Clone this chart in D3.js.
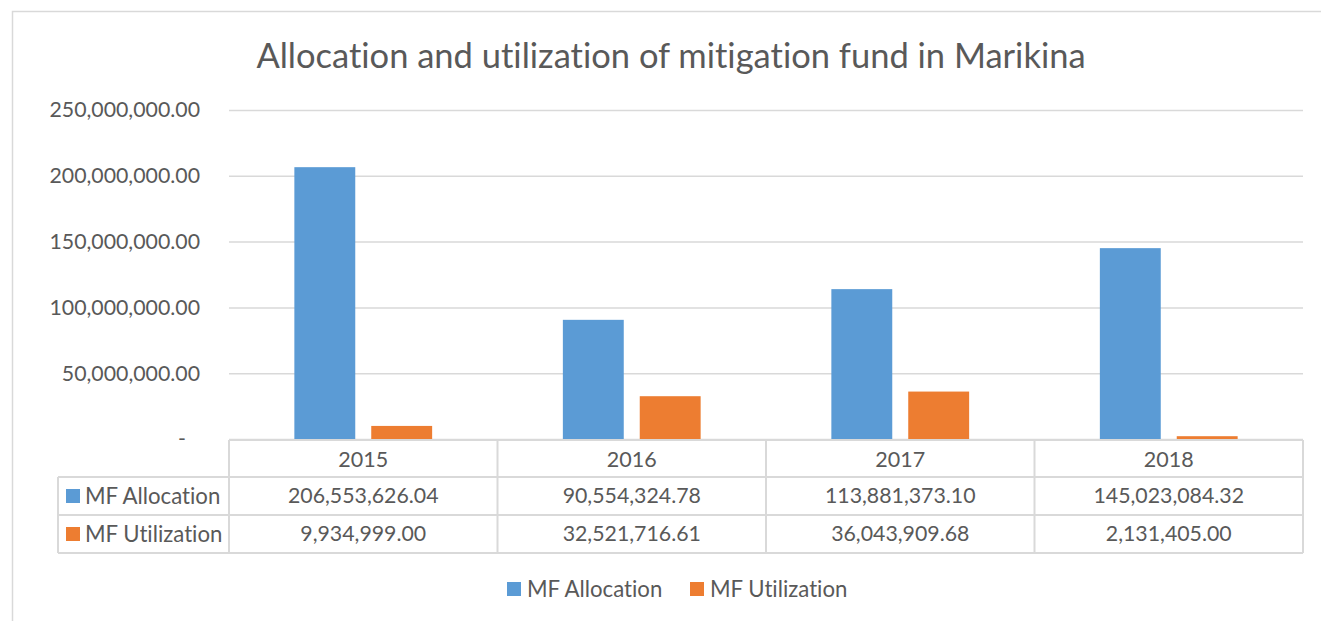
<!DOCTYPE html>
<html>
<head>
<meta charset="utf-8">
<script src="https://cdn.jsdelivr.net/npm/d3@7"></script>
<style>
  html, body { margin: 0; padding: 0; background: #fff; }
  svg { display: block; }
  text { font-family: Lato, "Open Sans", "Noto Sans", sans-serif; fill: #595959; font-variant-ligatures: none; }
</style>
</head>
<body>
<svg id="chart" width="1321" height="621"></svg>
<script>
const title = "Allocation and utilization of mitigation fund in Marikina";
const categories = ["2015", "2016", "2017", "2018"];
const seriesNames = ["MF Allocation", "MF Utilization"];
const allocation = [206553626.04, 90554324.78, 113881373.10, 145023084.32];
const utilization = [9934999.00, 32521716.61, 36043909.68, 2131405.00];
const seriesColors = ["#5B9BD5", "#ED7D31"];
const yTicks = [0, 50000000, 100000000, 150000000, 200000000, 250000000];

const svg = d3.select("#chart");
const W = 1321, H = 621;
const plot = {left: 229, right: 1303, top: 110, bottom: 439};
const tableLeft = 58;
const rowH = 38;

const seriesValues = [allocation, utilization];

// outer border
svg.append("rect").attr("x", 12.5).attr("y", 11.5).attr("width", W).attr("height", H)
  .attr("fill", "none").attr("stroke", "#d9d9d9").attr("stroke-width", 1.5);

// title
svg.append("text").attr("x", 671).attr("y", 68).attr("text-anchor", "middle")
  .style("font-size", "34.5px").text(title);

const x = d3.scaleBand().domain(categories).range([plot.left, plot.right]).padding(0);
const xs = d3.scaleBand().domain(seriesNames).range([0, x.bandwidth()])
  .paddingInner(0.208).paddingOuter(0.85);
const y = d3.scaleLinear().domain([0, 250000000]).range([plot.bottom, plot.top]);

const fmt = d3.format(",.2f");

// gridlines + labels via axis
const yAxis = d3.axisLeft(y).tickValues(yTicks)
  .tickSize(-(plot.right - plot.left))
  .tickPadding(29)
  .tickFormat(d => d === 0 ? "-" : fmt(d));
const gy = svg.append("g").attr("transform", `translate(${plot.left},0)`).call(yAxis);
gy.select(".domain").remove();
gy.selectAll(".tick line").attr("stroke", "#d9d9d9").attr("stroke-width", 1.5);
gy.selectAll(".tick text").style("font-size", "21.3px").attr("fill", "#595959")
  .style("font-family", "Lato, 'Open Sans', sans-serif");
gy.selectAll(".tick").filter(d => d === 0).select("text").attr("dx", -14);

// bars
const groups = svg.append("g").selectAll("g").data(categories).join("g")
  .attr("transform", d => `translate(${x(d)},0)`);
groups.selectAll("rect").data((d, i) => seriesNames.map((s, j) => ({s, v: seriesValues[j][i], j})))
  .join("rect")
  .attr("x", d => xs(d.s))
  .attr("width", xs.bandwidth())
  .attr("y", d => y(d.v))
  .attr("height", d => y(0) - y(d.v))
  .attr("fill", d => seriesColors[d.j]);

// data table
const tbl = svg.append("g");
const lineC = "#d9d9d9";
const t0 = plot.bottom + 1;
tbl.append("line").attr("x1", plot.left).attr("x2", plot.right).attr("y1", t0).attr("y2", t0)
  .attr("stroke", lineC).attr("stroke-width", 2);
for (let r = 1; r <= 3; r++) {
  tbl.append("line").attr("x1", tableLeft).attr("x2", plot.right)
    .attr("y1", t0 + r * rowH - 1).attr("y2", t0 + r * rowH - 1)
    .attr("stroke", lineC).attr("stroke-width", 2);
}
const colEdges = categories.map(c => x(c)).concat([plot.right]);
colEdges.forEach(cx => {
  tbl.append("line").attr("x1", cx).attr("x2", cx).attr("y1", t0).attr("y2", t0 + 3 * rowH - 1)
    .attr("stroke", lineC).attr("stroke-width", 2);
});
tbl.append("line").attr("x1", tableLeft).attr("x2", tableLeft)
  .attr("y1", t0 + rowH - 1).attr("y2", t0 + 3 * rowH - 1)
  .attr("stroke", lineC).attr("stroke-width", 2);

tbl.selectAll("text.hdr").data(categories).join("text").attr("class", "hdr")
  .attr("x", d => x(d) + x.bandwidth() / 2).attr("y", t0 + rowH / 2)
  .attr("dy", "0.35em").attr("text-anchor", "middle").style("font-size", "21.5px").text(d => d);

seriesNames.forEach((s, j) => {
  const ry = t0 + rowH * (j + 1) + rowH / 2 - 1;
  tbl.append("rect").attr("x", 66).attr("y", ry - 7).attr("width", 14).attr("height", 14)
    .attr("fill", seriesColors[j]);
  tbl.append("text").attr("x", 85).attr("y", ry).attr("dy", "0.35em")
    .style("font-size", "22.2px").text(s);
  tbl.selectAll(null).data(seriesValues[j]).join("text")
    .attr("x", (d, i) => x(categories[i]) + x.bandwidth() / 2).attr("y", ry)
    .attr("dy", "0.35em").attr("text-anchor", "middle").style("font-size", "21.3px")
    .text(d => fmt(d));
});

// legend
const legend = svg.append("g");
const legX = [507, 690];
seriesNames.forEach((s, j) => {
  legend.append("rect").attr("x", legX[j]).attr("y", 582).attr("width", 14).attr("height", 14)
    .attr("fill", seriesColors[j]);
  legend.append("text").attr("x", legX[j] + 20).attr("y", 589).attr("dy", "0.35em")
    .style("font-size", "22.2px").text(s);
});
</script>
</body>
</html>
